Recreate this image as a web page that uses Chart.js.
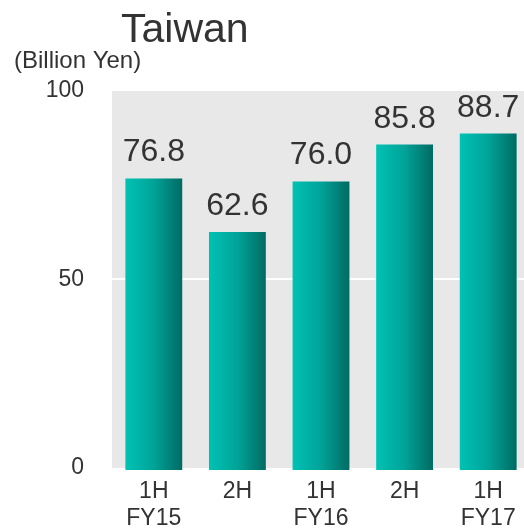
<!DOCTYPE html>
<html>
<head>
<meta charset="utf-8">
<script src="https://cdn.jsdelivr.net/npm/chart.js@4/dist/chart.umd.min.js"></script>
<style>
html,body{margin:0;padding:0;overflow:hidden;background:#fff;width:524px;height:528px;}
canvas{display:block;}
</style>
</head>
<body>
<canvas id="c" width="531" height="528"></canvas>
<script>
const chartTitle = 'Taiwan';
const unitLabel = '(Billion Yen)';
const categories = [['1H','FY15'], ['2H',''], ['1H','FY16'], ['2H',''], ['1H','FY17']];
const salesValues = [76.8, 62.6, 76.0, 85.8, 88.7];
const yTicks = [0, 50, 100];

const FONT = '"Liberation Sans", Arial, sans-serif';
const TEXT = '#333333';
const BAR_PCT = 0.68;

const bgPlugin = {
  id: 'bg',
  beforeDraw(chart) {
    const {ctx, chartArea} = chart;
    const y = chart.scales.y;
    ctx.save();
    ctx.fillStyle = '#e8e8e8';
    ctx.fillRect(chartArea.left, chartArea.top, chartArea.right - chartArea.left, y.getPixelForValue(0) - chartArea.top);
    ctx.restore();
  }
};

const textPlugin = {
  id: 'texts',
  afterDraw(chart) {
    const {ctx} = chart;
    ctx.save();
    ctx.fillStyle = TEXT;
    ctx.textBaseline = 'alphabetic';
    ctx.textAlign = 'left';
    ctx.font = '41px ' + FONT;
    ctx.fillText(chartTitle, 121, 42);
    ctx.font = '24px ' + FONT;
    ctx.fillText(unitLabel, 14, 68);
    ctx.textAlign = 'center';
    ctx.font = '32px ' + FONT;
    const meta = chart.getDatasetMeta(0);
    meta.data.forEach((bar, i) => {
      ctx.fillText(salesValues[i].toFixed(1), bar.x, bar.y - 17);
    });
    ctx.restore();
  }
};

const chart = new Chart(document.getElementById('c'), {
  type: 'bar',
  data: {
    labels: categories,
    datasets: [{
      data: salesValues,
      base: -0.55,
      backgroundColor: (c) => {
        const xs = c.chart.scales && c.chart.scales.x;
        if (!xs || !isFinite(xs.width) || xs.width <= 0 || c.dataIndex === undefined) return '#00a89c';
        const cx = xs.getPixelForValue(c.dataIndex);
        const w = xs.width / categories.length * BAR_PCT;
        if (!isFinite(cx)) return '#00a89c';
        const g = c.chart.ctx.createLinearGradient(cx - w/2, 0, cx + w/2, 0);
        g.addColorStop(0, '#00c2b4');
        g.addColorStop(0.5, '#00a398');
        g.addColorStop(1, '#006b63');
        return g;
      },
      borderWidth: 0,
      categoryPercentage: 1.0,
      barPercentage: BAR_PCT
    }]
  },
  options: {
    responsive: false,
    animation: false,
    layout: { padding: { top: 91, left: 0, right: 1, bottom: 0 } },
    plugins: { legend: { display: false }, tooltip: { enabled: false }, title: { display: false } },
    scales: {
      x: {
        grid: { display: false, drawTicks: false },
        border: { display: false },
        afterFit(scale) { scale.height = 58; },
        ticks: { color: TEXT, font: { family: FONT, size: 23, lineHeight: 1.17 }, padding: 8, maxRotation: 0, autoSkip: false }
      },
      y: {
        min: -0.55,
        max: 100,
        afterBuildTicks(scale) { scale.ticks = yTicks.map(v => ({ value: v })); },
        afterFit(scale) { scale.width = 112; },
        grid: {
          drawTicks: false,
          color: (c) => (c.tick && c.tick.value === 50) ? '#ffffff' : 'rgba(0,0,0,0)',
          lineWidth: 2
        },
        border: { display: false },
        ticks: { color: TEXT, font: { family: FONT, size: 23 }, padding: 28 }
      }
    }
  },
  plugins: [bgPlugin, textPlugin]
});
</script>
</body>
</html>
